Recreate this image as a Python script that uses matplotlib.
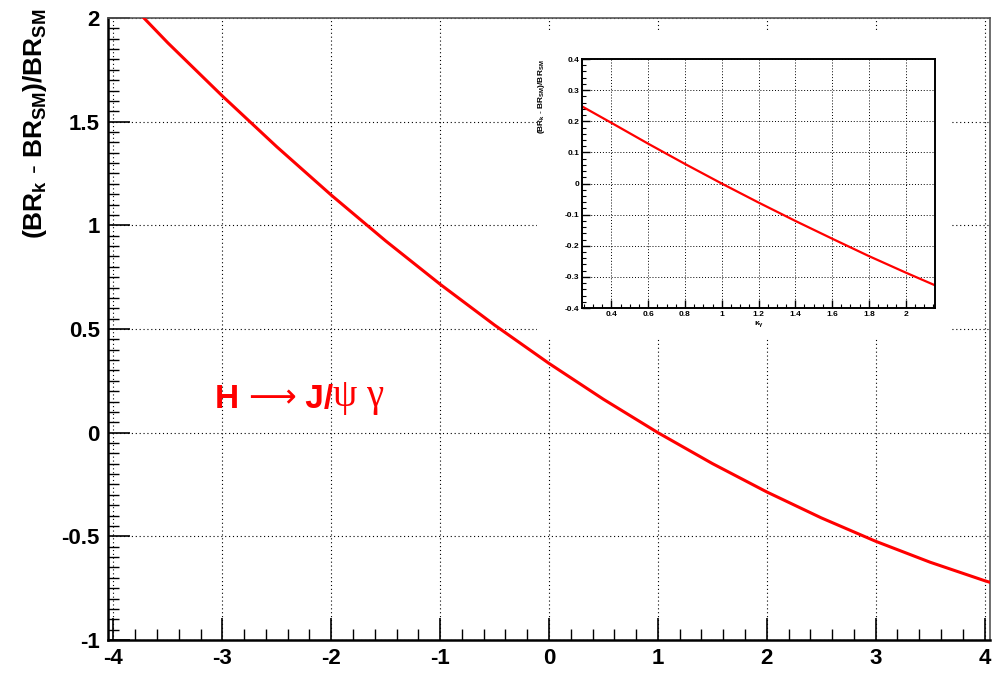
import matplotlib
matplotlib.use("Agg")
import matplotlib.pyplot as plt
from matplotlib.ticker import MultipleLocator
from matplotlib.patches import Rectangle

plt.rcParams['font.family'] = ['Liberation Sans', 'DejaVu Sans']
plt.rcParams['mathtext.fontset'] = 'custom'
plt.rcParams['mathtext.rm'] = 'Liberation Sans:bold'
plt.rcParams['mathtext.it'] = 'Liberation Sans:bold'
plt.rcParams['mathtext.bf'] = 'Liberation Sans:bold'

# relative change of the branching ratio versus kappa_gamma (wide range)
kappa = [-3.72, -3.5, -3.0, -2.5, -2.0, -1.5, -1.0, -0.5, 0.0, 0.5,
         1.0, 1.5, 2.0, 2.5, 3.0, 3.5, 4.0, 4.05]
delta_br = [2.0, 1.88, 1.624, 1.379, 1.146, 0.925, 0.716, 0.519, 0.334, 0.161,
            0.0, -0.149, -0.286, -0.411, -0.524, -0.625, -0.714, -0.722]

# zoomed range around the SM point
kappa_zoom = [0.24, 0.4, 0.6, 0.8, 1.0, 1.2, 1.4, 1.6, 1.8, 2.0, 2.16]
delta_zoom = [0.248, 0.195, 0.128, 0.063, 0.0, -0.061, -0.120, -0.177, -0.233, -0.286, -0.327]

xticks = [-4, -3, -2, -1, 0, 1, 2, 3, 4]
yticks = [-1, -0.5, 0, 0.5, 1, 1.5, 2]
ytick_labels = ['-1', '-0.5', '0', '0.5', '1', '1.5', '2']

fig = plt.figure(figsize=(9.96, 6.77), dpi=100)
ax = fig.add_axes([0.1084, 0.0547, 0.8856, 0.9187])

grid_style = dict(color='black', linestyle=(0, (1, 2.5)), linewidth=0.8)

ax.plot(kappa, delta_br, color='red', lw=2.2, zorder=3)
ax.set_xlim(-4.05, 4.05)
ax.set_ylim(-1, 2)
ax.set_xticks(xticks)
ax.set_xticklabels([str(t) for t in xticks])
ax.set_yticks(yticks)
ax.set_yticklabels(ytick_labels)
ax.xaxis.set_minor_locator(MultipleLocator(0.2))
ax.yaxis.set_minor_locator(MultipleLocator(0.05))
ax.tick_params(which='major', direction='in', length=16, width=1.2,
               labelsize=16, pad=6, top=False, right=False)
ax.tick_params(which='minor', direction='in', length=8, width=1.0,
               top=False, right=False)
for lab in ax.get_xticklabels() + ax.get_yticklabels():
    lab.set_fontweight('bold')
ax.grid(True, which='major', **grid_style)
ax.set_axisbelow(True)
for side in ['left', 'bottom']:
    ax.spines[side].set_linewidth(1.8)
for side in ['top', 'right']:
    ax.spines[side].set_linewidth(1.2)
    ax.spines[side].set_color('#555555')

fig.text(0.035, 1 - 8 / 677, r"$(BR_{k}$ - $BR_{SM})/BR_{SM}$",
         rotation=90, ha='center', va='top', fontsize=19)

# process label: H -> J/psi gamma
t1 = ax.text(-3.07, 0.12, "H ", color='red', fontsize=24,
             fontweight='bold', va='baseline', ha='left', zorder=4)
t2 = ax.annotate("\u27f6", xy=(1, 0), xycoords=t1, color='red', fontsize=24,
                 family=['DejaVu Sans'], va='bottom', ha='left', zorder=4)
t3 = ax.annotate(" J/", xy=(1, 0), xycoords=t2, color='red', fontsize=24,
                 fontweight='bold', va='bottom', ha='left', zorder=4)
ax.annotate("\u03c8 \u03b3", xy=(1, 0), xycoords=t3, color='red', fontsize=28,
            family=['Liberation Serif', 'DejaVu Serif'], va='bottom', ha='left',
            zorder=4)

# white backdrop for the inset
ax.add_patch(Rectangle((0.539, 0.5007), 0.417, 0.455, transform=fig.transFigure,
                       facecolor='white', edgecolor='none', zorder=2.5,
                       clip_on=False))

axin = fig.add_axes([0.5843, 0.545, 0.3545, 0.3678], zorder=5)
axin.plot(kappa_zoom, delta_zoom, color='red', lw=1.6)
axin.set_xlim(0.24, 2.16)
axin.set_ylim(-0.4, 0.4)
axin.set_xticks([0.4, 0.6, 0.8, 1.0, 1.2, 1.4, 1.6, 1.8, 2.0])
axin.set_xticklabels(['0.4', '0.6', '0.8', '1', '1.2', '1.4', '1.6', '1.8', '2'])
axin.set_yticks([-0.4, -0.3, -0.2, -0.1, 0, 0.1, 0.2, 0.3, 0.4])
axin.set_yticklabels(['-0.4', '-0.3', '-0.2', '-0.1', '0', '0.1', '0.2', '0.3', '0.4'])
axin.xaxis.set_minor_locator(MultipleLocator(0.05))
axin.yaxis.set_minor_locator(MultipleLocator(0.02))
axin.tick_params(which='major', direction='in', length=6, width=1.0,
                 labelsize=6, pad=2, top=False, right=False)
axin.tick_params(which='minor', direction='in', length=3, width=0.8,
                 top=False, right=False)
for lab in axin.get_xticklabels() + axin.get_yticklabels():
    lab.set_fontweight('bold')
axin.grid(True, which='major', color='black', linestyle=(0, (1, 2)), linewidth=0.7)
axin.set_axisbelow(True)
for side in axin.spines.values():
    side.set_linewidth(1.4)
axin.set_xlabel(r"$\kappa_{\gamma}$", fontsize=6, labelpad=1)
axin.set_ylabel(r"$(BR_{k}$ - $BR_{SM})/BR_{SM}$", fontsize=6, labelpad=2)
axin.yaxis.set_label_coords(-0.1, 1.0)
axin.yaxis.label.set_va('bottom')
axin.yaxis.label.set_ha('right')

fig.savefig("out.png", dpi=100)
